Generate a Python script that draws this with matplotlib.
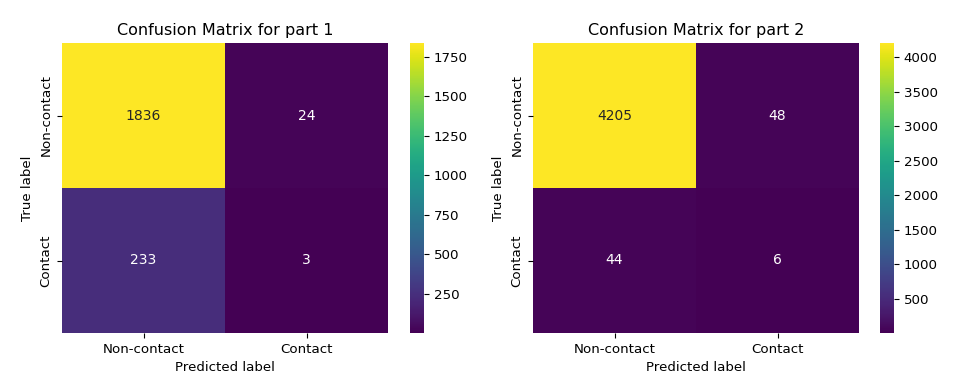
import matplotlib
matplotlib.use("Agg")
import matplotlib.pyplot as plt
import seaborn as sns
import numpy as np

labels = ["Non-contact", "Contact"]
cm_part1 = [[1836, 24], [233, 3]]
cm_part2 = [[4205, 48], [44, 6]]
titles = ["Confusion Matrix for part 1", "Confusion Matrix for part 2"]

fig = plt.figure(figsize=(9.64, 3.84), dpi=100)
W, H = 964, 384
def ax_px(x0, y0, x1, y1):
    return fig.add_axes([x0 / W, 1 - y1 / H, (x1 - x0) / W, (y1 - y0) / H])

layout = [((62, 43, 388, 333), (410, 43, 424, 333)),
          ((533, 43, 859, 333), (880, 43, 894, 333))]

for cm, title, (axr, cbr) in zip([cm_part1, cm_part2], titles, layout):
    ax = ax_px(*axr)
    cax = ax_px(*cbr)
    sns.heatmap(np.array(cm), annot=True, fmt="d", cmap="viridis", ax=ax, cbar_ax=cax,
                xticklabels=labels, yticklabels=labels, annot_kws={"fontsize": 10})
    ax.set_title(title, fontsize=11.5)
    ax.set_xlabel("Predicted label", fontsize=9.6)
    ax.set_ylabel("True label", fontsize=9.6)
    ax.tick_params(labelsize=9.6)
    cax.tick_params(labelsize=9.6)

fig.savefig("out.png", dpi=100)
